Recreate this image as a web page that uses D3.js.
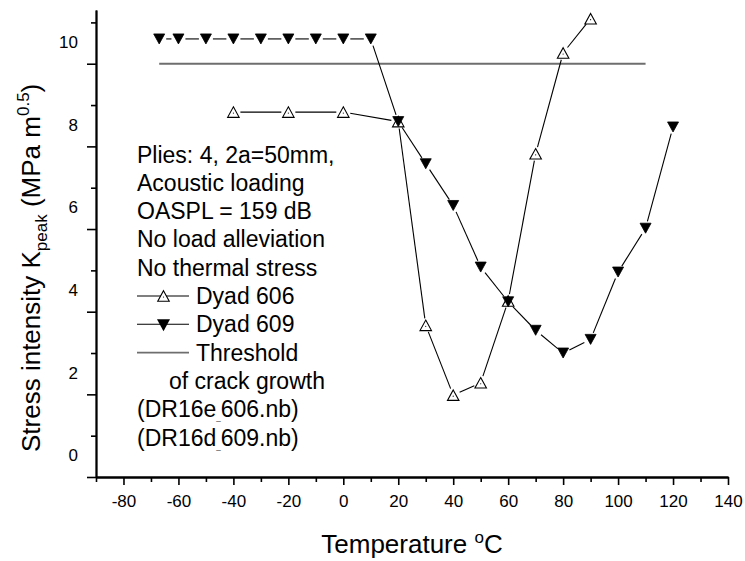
<!DOCTYPE html>
<html>
<head>
<meta charset="utf-8">
<script src="https://cdn.jsdelivr.net/npm/d3@7"></script>
<style>
  html, body { margin: 0; padding: 0; background: #fff; }
  svg { display: block; font-family: "Liberation Sans", Arial, sans-serif; }
</style>
</head>
<body>
<svg id="chart" width="745" height="561"></svg>
<script>
// ---------- data ----------
const temps606 = [-40, -20, 0, 20, 30, 40, 50, 60, 70, 80, 90];
const k606     = [8.83, 8.83, 8.83, 8.6, 3.67, 1.98, 2.28, 4.26, 7.82, 10.26, 11.09];

const temps609 = [-67, -60, -50, -40, -30, -20, -10, 0, 10, 20, 30, 40, 50, 60, 70, 80, 90, 100, 110, 120];
const k609     = [10.6, 10.6, 10.6, 10.6, 10.6, 10.6, 10.6, 10.6, 10.6, 8.6, 7.58, 6.57, 5.08, 4.24, 3.55, 3.0, 3.33, 4.96, 6.02, 8.47];

const thresholdT = [-67, 110];
const thresholdK = [10, 10];

const xTickValues = [-80, -60, -40, -20, 0, 20, 40, 60, 80, 100, 120, 140];
const xMinorValues = [-90, -70, -50, -30, -10, 10, 30, 50, 70, 90, 110, 130];
const yTickValues = [0, 2, 4, 6, 8, 10];
const yMinorValues = [1, 3, 5, 7, 9, 11];

const noteLines = ["Plies: 4, 2a=50mm,", "Acoustic loading", "OASPL = 159 dB", "No load alleviation", "No thermal stress"];
const seriesNames = ["Dyad 606", "Dyad 609", "Threshold"];
const extraLines = ["of crack growth"];
const fileNames = [["(DR16e", "606.nb)"], ["(DR16d", "609.nb)"]];

// ---------- layout ----------
const svg = d3.select("#chart");
const x = d3.scaleLinear().domain([-90, 140]).range([96, 728]);
const y = d3.scaleLinear().domain([0, 11.3]).range([477, 10]);

// ---------- axes ----------
const axisColor = "#000";
const fmt = d => String(d);
const xAxis = svg.append("g").attr("transform", "translate(0,477)")
  .call(d3.axisBottom(x).tickValues(xTickValues).tickSize(8).tickPadding(10).tickSizeOuter(0).tickFormat(fmt));
const xMinor = svg.append("g").attr("transform", "translate(0,477)")
  .call(d3.axisBottom(x).tickValues(xMinorValues).tickSize(5).tickSizeOuter(0).tickFormat(""));
const yAxis = svg.append("g").attr("transform", "translate(96,0)")
  .call(d3.axisLeft(y).tickValues(yTickValues).tickSize(9).tickPadding(9).tickSizeOuter(0).tickFormat(fmt));
const yMinor = svg.append("g").attr("transform", "translate(96,0)")
  .call(d3.axisLeft(y).tickValues(yMinorValues).tickSize(5).tickSizeOuter(0).tickFormat(""));

[xAxis, xMinor, yAxis, yMinor].forEach(g => {
  g.selectAll("path.domain").attr("stroke", axisColor).attr("stroke-width", 1.8);
  g.selectAll(".tick line").attr("stroke", axisColor).attr("stroke-width", 1.6);
  g.selectAll(".tick text").attr("fill", "#000").style("font-family", "'Liberation Sans', Arial, sans-serif").style("font-size", "17px");
});
// the reference prints the y labels half a major step above their ticks
yAxis.selectAll(".tick text").attr("y", -21.5);

// ---------- axis titles ----------
const xTitle = svg.append("text")
  .attr("x", x(25)).attr("y", 553)
  .attr("text-anchor", "middle")
  .style("font-size", "26px").attr("fill", "#000");
xTitle.append("tspan").text("Temperature ");
xTitle.append("tspan").attr("dy", -10).style("font-size", "17px").text("o");
xTitle.append("tspan").attr("dy", 10).text("C");

const yTitle = svg.append("text")
  .attr("transform", "translate(40,452) rotate(-90)")
  .attr("text-anchor", "start")
  .style("font-size", "26px").attr("fill", "#000");
yTitle.append("tspan").text("Stress intensity K");
yTitle.append("tspan").attr("dy", 7).style("font-size", "17px").text("peak");
yTitle.append("tspan").attr("dy", -7).text(" (MPa m");
yTitle.append("tspan").attr("dy", -11).style("font-size", "17px").text("0.5");
yTitle.append("tspan").attr("dy", 11).text(")");

// ---------- marks ----------
function triPath(w, h, up) {
  const a = up ? -h / 2 : h / 2;
  return `M0,${a}L${w / 2},${-a}L${-w / 2},${-a}Z`;
}
function gappedSegments(xs, ys, gap) {
  const pts = xs.map((t, i) => [x(t), y(ys[i])]);
  const segs = [];
  for (let i = 0; i < pts.length - 1; i++) {
    const [x0, y0] = pts[i], [x1, y1] = pts[i + 1];
    const len = Math.hypot(x1 - x0, y1 - y0);
    if (len <= 2 * gap) continue;
    const ux = (x1 - x0) / len, uy = (y1 - y0) / len;
    segs.push([x0 + ux * gap, y0 + uy * gap, x1 - ux * gap, y1 - uy * gap]);
  }
  return segs;
}

// threshold line
svg.append("path")
  .attr("d", d3.line().x(d => x(d[0])).y(d => y(d[1]))(thresholdT.map((t, i) => [t, thresholdK[i]])))
  .attr("stroke", "#6e6e6e").attr("stroke-width", 1.8).attr("fill", "none");

function drawSeries(xs, ys, up) {
  const g = svg.append("g");
  g.selectAll("line").data(gappedSegments(xs, ys, 7)).join("line")
    .attr("x1", d => d[0]).attr("y1", d => d[1]).attr("x2", d => d[2]).attr("y2", d => d[3])
    .attr("stroke", "#000").attr("stroke-width", 1.1);
  const pts = xs.map((t, i) => [t, ys[i]]);
  const m = g.selectAll("g.m").data(pts).join("g").attr("class", "m")
    .attr("transform", d => `translate(${x(d[0])},${y(d[1])})`);
  if (up) {
    m.append("path").attr("d", triPath(11.5, 10.5, true)).attr("fill", "#fff").attr("stroke", "#000").attr("stroke-width", 1.1);
    m.append("circle").attr("r", 0.6).attr("cy", 1).attr("fill", "#000");
  } else {
    m.append("path").attr("d", triPath(11, 10, false)).attr("fill", "#000").attr("stroke", "#000").attr("stroke-width", 0.8);
  }
}
drawSeries(temps606, k606, true);
drawSeries(temps609, k609, false);

// ---------- legend / notes ----------
const lx = 137, base0 = 162.5, lh = 28.3;
const leg = svg.append("g").style("font-size", "23px").attr("fill", "#000");
noteLines.forEach((t, i) => {
  leg.append("text").attr("x", lx).attr("y", base0 + i * lh).text(t);
});
seriesNames.forEach((t, i) => {
  const by = base0 + (noteLines.length + i) * lh;
  leg.append("text").attr("x", 196).attr("y", by).text(t);
  const ly = by - 8;
  leg.append("line").attr("x1", lx).attr("x2", 189).attr("y1", ly).attr("y2", ly)
    .attr("stroke", i === 2 ? "#6e6e6e" : "#000").attr("stroke-width", i === 2 ? 1.8 : 1.1);
  if (i === 0) {
    const mg = leg.append("g").attr("transform", `translate(163.5,${ly})`);
    mg.append("path").attr("d", triPath(11.5, 10.5, true)).attr("fill", "#fff").attr("stroke", "#000").attr("stroke-width", 1.1);
    mg.append("circle").attr("r", 0.6).attr("cy", 1).attr("fill", "#000");
  } else if (i === 1) {
    leg.append("path").attr("transform", `translate(163.5,${ly + 1})`).attr("d", triPath(13, 12, false)).attr("fill", "#000");
  }
});
extraLines.forEach((t, i) => {
  const by = base0 + (noteLines.length + seriesNames.length + i) * lh;
  leg.append("text").attr("x", 169).attr("y", by).text(t);
});
fileNames.forEach((parts, i) => {
  const by = base0 + (noteLines.length + seriesNames.length + extraLines.length + i) * lh;
  const t = leg.append("text").attr("x", lx).attr("y", by);
  t.append("tspan").text(parts[0]);
  t.append("tspan").attr("dy", 3).style("font-size", "8px").text("_");
  t.append("tspan").attr("dy", -3).text(parts[1]);
});
</script>
</body>
</html>
